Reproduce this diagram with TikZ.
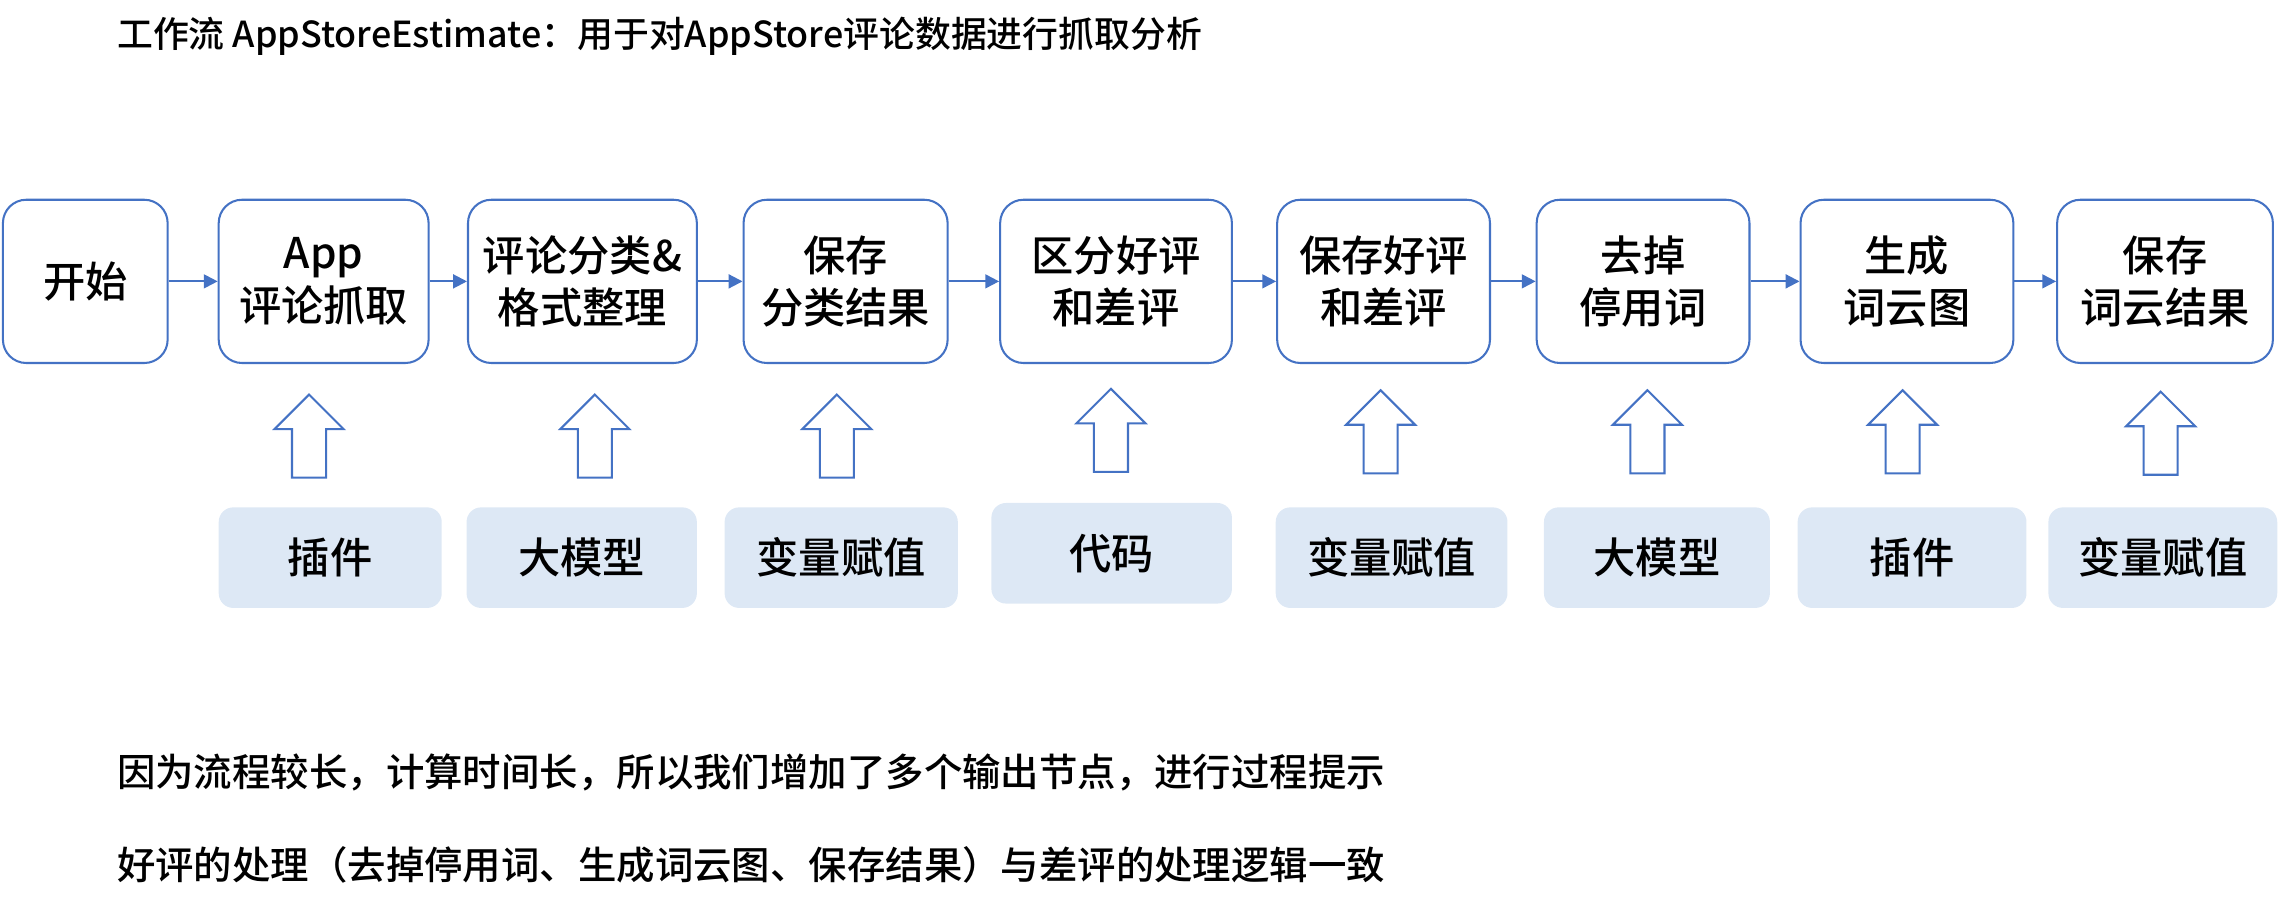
\documentclass[tikz,border=0pt]{standalone}
\usepackage{fontspec}
\setmainfont{Noto Sans CJK SC}[UprightFont=* Medium]
\usetikzlibrary{arrows.meta,shapes.arrows}
\definecolor{flowblue}{RGB}{68,114,196}
\definecolor{toolfill}{RGB}{221,232,245}

\begin{document}
\begin{tikzpicture}[
        x=0.02cm, y=-0.02cm,
        stepbox/.style={draw=flowblue, line width=0.8pt, fill=white, rounded corners=0.32cm,
            minimum height=2.24cm, inner sep=0pt, align=center, font=\fontsize{16.5}{20.5}\selectfont},
        toolbox/.style={fill=toolfill, rounded corners=0.2cm, minimum height=1.38cm,
            inner sep=0pt, font=\fontsize{16.5}{20}\selectfont},
        flow/.style={-{Triangle[length=0.19cm, width=0.19cm]}, line width=0.8pt, flowblue},
        uparrow/.style={single arrow, draw=flowblue, line width=0.8pt, fill=white,
            shape border rotate=90, minimum height=1.14cm, minimum width=0.92cm,
            single arrow head extend=0.24cm, inner sep=0.22cm},
        note/.style={anchor=west, inner sep=0pt, font=\fontsize{15}{18}\selectfont}
    ]
        \useasboundingbox (0,0) rectangle (1568,628);

        % Title
        \node[note, font=\fontsize{14}{17}\selectfont] (title) at (80,25)
            {工作流 AppStoreEstimate：用于对AppStore评论数据进行抓取分析};

        % Workflow steps
        \node[stepbox, minimum width=2.26cm] (start) at (58.5,193) {开始};
        \node[stepbox, minimum width=2.88cm] (fetch) at (222,193) {App\\评论抓取};
        \node[stepbox, minimum width=3.14cm] (classify) at (399.5,193) {评论分类\&\\格式整理};
        \node[stepbox, minimum width=2.80cm] (savecls) at (580,193) {保存\\分类结果};
        \node[stepbox, minimum width=3.18cm] (split) at (765.5,193) {区分好评\\和差评};
        \node[stepbox, minimum width=2.92cm] (savesplit) at (949,193) {保存好评\\和差评};
        \node[stepbox, minimum width=2.92cm] (stopw) at (1127,193) {去掉\\停用词};
        \node[stepbox, minimum width=2.92cm] (cloud) at (1308,193) {生成\\词云图};
        \node[stepbox, minimum width=2.96cm] (savecloud) at (1485,193) {保存\\词云结果};

        % Flow
        \foreach \a/\b in {start/fetch, fetch/classify, classify/savecls, savecls/split,
            split/savesplit, savesplit/stopw, stopw/cloud, cloud/savecloud}
            \draw[flow] (\a) -- (\b);

        % Tools
        \node[toolbox, minimum width=3.06cm] (plugin1) at (226.5,382.5) {插件};
        \node[toolbox, minimum width=3.16cm] (llm1) at (399,382.5) {大模型};
        \node[toolbox, minimum width=3.20cm] (assign1) at (577,382.5) {变量赋值};
        \node[toolbox, minimum width=3.30cm] (code) at (762.5,379.5) {代码};
        \node[toolbox, minimum width=3.18cm] (assign2) at (954.5,382.5) {变量赋值};
        \node[toolbox, minimum width=3.10cm] (llm2) at (1136.5,382.5) {大模型};
        \node[toolbox, minimum width=3.14cm] (plugin2) at (1311.5,382.5) {插件};
        \node[toolbox, minimum width=3.14cm] (assign3) at (1483.5,382.5) {变量赋值};

        % Tool arrows
        \node[uparrow] (up1) at (212,305) {};
        \node[uparrow] (up2) at (408,305) {};
        \node[uparrow] (up3) at (574,305) {};
        \node[uparrow] (up4) at (762,301) {};
        \node[uparrow] (up5) at (947,302) {};
        \node[uparrow] (up6) at (1130,302) {};
        \node[uparrow] (up7) at (1305,302) {};
        \node[uparrow] (up8) at (1482,303) {};

        % Notes
        \node[note] (note1) at (80,530) {因为流程较长，计算时间长，所以我们增加了多个输出节点，进行过程提示};
        \node[note] (note2) at (80,593) {好评的处理（去掉停用词、生成词云图、保存结果）与差评的处理逻辑一致};
    \end{tikzpicture}
\end{document}
